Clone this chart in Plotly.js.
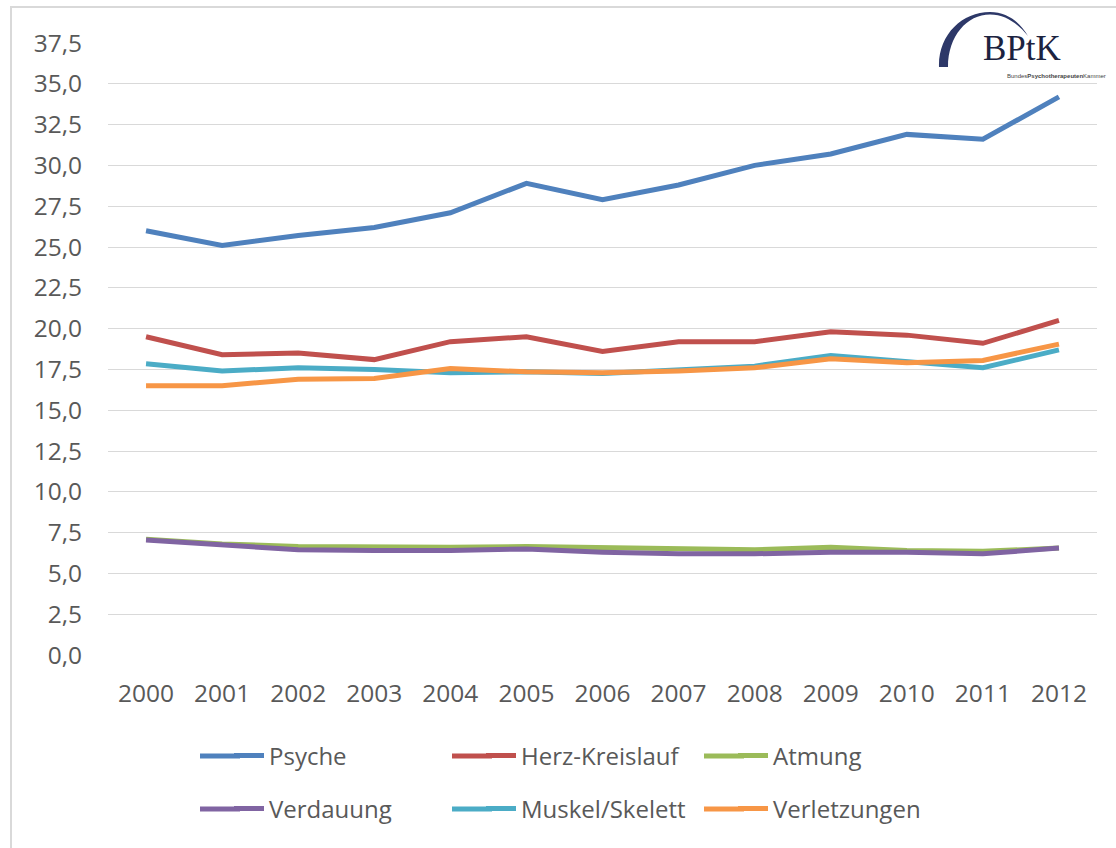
<!DOCTYPE html>
<html>
<head>
<meta charset="utf-8">
<script src="https://cdn.plot.ly/plotly-3.0.1.min.js"></script>
<style>html,body{margin:0;padding:0;background:#fff;}#chart{width:1116px;height:848px;}</style>
</head>
<body>
<div id="chart"></div>
<script>
// ---- data ----
var years = ['2000','2001','2002','2003','2004','2005','2006','2007','2008','2009','2010','2011','2012'];
var seriesNames = ['Psyche','Herz-Kreislauf','Atmung','Verdauung','Muskel/Skelett','Verletzungen'];
var psyche      = [26.0, 25.1, 25.7, 26.2, 27.1, 28.9, 27.9, 28.8, 30.0, 30.7, 31.9, 31.6, 34.2];
var herz        = [19.5, 18.4, 18.5, 18.1, 19.2, 19.5, 18.6, 19.2, 19.2, 19.8, 19.6, 19.1, 20.5];
var atmung      = [7.1, 6.8, 6.65, 6.6, 6.6, 6.65, 6.6, 6.5, 6.45, 6.6, 6.4, 6.35, 6.55];
var verdauung   = [7.05, 6.75, 6.45, 6.4, 6.4, 6.5, 6.3, 6.2, 6.2, 6.3, 6.3, 6.2, 6.55];
var muskel      = [17.85, 17.4, 17.6, 17.5, 17.3, 17.35, 17.25, 17.45, 17.7, 18.35, 18.0, 17.6, 18.7];
var verletzung  = [16.5, 16.5, 16.9, 16.95, 17.55, 17.35, 17.3, 17.4, 17.6, 18.15, 17.9, 18.05, 19.05];
var yTicks = [0, 2.5, 5, 7.5, 10, 12.5, 15, 17.5, 20, 22.5, 25, 27.5, 30, 32.5, 35, 37.5];

var values = [psyche, herz, atmung, verdauung, muskel, verletzung];
var colors = ['#4F81BD', '#C0504D', '#9BBB59', '#8064A2', '#4BACC6', '#F79646'];
var legendOf = ['legend', 'legend', 'legend', 'legend2', 'legend2', 'legend2'];

var traces = seriesNames.map(function (n, i) {
  return {
    type: 'scatter', mode: 'lines', name: n, x: years, y: values[i],
    line: {color: colors[i], width: 5},
    legend: legendOf[i], hoverinfo: 'skip'
  };
});

// layout pixel helpers (plot area: left 108, right 1097, top 43, bottom 655)
var L = 108, R = 1097, T = 43, B = 655;
function X(px) { return (px - L) / (R - L); }
function Y(py) { return (B - py) / (B - T); }
function P(px, py) { return X(px).toFixed(5) + ',' + Y(py).toFixed(5); }

var arcPath = 'M' + P(939, 67) +
  ' C' + P(938, 35) + ' ' + P(962, 12) + ' ' + P(990, 12) +
  ' C' + P(1007, 12) + ' ' + P(1020, 22) + ' ' + P(1028, 36) +
  ' C' + P(1018, 24) + ' ' + P(1006, 14.5) + ' ' + P(990, 14.5) +
  ' C' + P(967, 14.5) + ' ' + P(948, 36) + ' ' + P(948, 67) + ' Z';

var font = 'Open Sans, Noto Sans, sans-serif';
var legendX = 229;
var colStep = 252;
var rowY = [756, 809];
var legendCommon = {
  orientation: 'h', xref: 'paper', yref: 'paper', yanchor: 'middle', xanchor: 'left',
  entrywidth: colStep - 45, entrywidthmode: 'pixels', font: {family: font, size: 24, color: '#595959'},
  bgcolor: 'rgba(0,0,0,0)', itemclick: false, itemdoubleclick: false
};

// longer legend line samples (Excel style) drawn as extensions to the left of the legend symbols
var legendExt = seriesNames.map(function (n, i) {
  var col = i % 3, row = Math.floor(i / 3);
  var x0 = legendX - 29 + col * colStep;
  return {type: 'line', xref: 'paper', yref: 'paper', x0: X(x0), x1: X(x0 + 40),
          y0: Y(rowY[row]), y1: Y(rowY[row]), line: {color: colors[i], width: 5}, layer: 'above'};
});

var layout = {
  width: 1116, height: 848,
  margin: {l: L, r: 1116 - R, t: T, b: 848 - B},
  paper_bgcolor: '#ffffff', plot_bgcolor: '#ffffff',
  separators: ',.',
  font: {family: font, size: 24, color: '#595959'},
  showlegend: true,
  xaxis: {
    type: 'category', range: [-0.5, 12.5], showgrid: false, zeroline: false, showline: false,
    ticks: '', tickfont: {family: font, size: 24.5, color: '#595959'}, ticklabelstandoff: 21, fixedrange: true
  },
  yaxis: {
    range: [0, 37.5], tickvals: yTicks, tickformat: '.1f', showgrid: true, gridcolor: '#d9d9d9',
    gridwidth: 1, zeroline: false, showline: false, ticks: '',
    tickfont: {family: font, size: 24.5, color: '#595959'}, ticklabelstandoff: 25, fixedrange: true
  },
  legend: Object.assign({}, legendCommon, {x: X(legendX), y: Y(rowY[0])}),
  legend2: Object.assign({}, legendCommon, {x: X(legendX), y: Y(rowY[1])}),
  shapes: [
    {type: 'rect', xref: 'paper', yref: 'paper', x0: X(11), x1: X(1130), y0: Y(860), y1: Y(7),
     line: {color: '#d9d9d9', width: 2}, fillcolor: 'rgba(0,0,0,0)', layer: 'below'},
    {type: 'rect', xref: 'paper', yref: 'paper', x0: X(944), x1: X(1112), y0: Y(80), y1: Y(11),
     line: {width: 0}, fillcolor: '#ffffff', layer: 'above'},
    {type: 'path', xref: 'paper', yref: 'paper', path: arcPath,
     fillcolor: '#2d3868', line: {width: 0}, layer: 'above'}
  ].concat(legendExt),
  annotations: [
    {xref: 'paper', yref: 'paper', x: X(1022), y: Y(49), xanchor: 'center', yanchor: 'middle',
     text: 'BPtK', showarrow: false, font: {family: 'Liberation Serif, DejaVu Serif, serif', size: 35, color: '#1c2340'}},
    {xref: 'paper', yref: 'paper', x: X(1056), y: Y(76), xanchor: 'center', yanchor: 'middle',
     text: 'Bundes<b>Psychotherapeuten</b>Kammer', showarrow: false,
     font: {family: 'Liberation Sans, sans-serif', size: 6, color: '#444444'}}
  ]
};

Plotly.newPlot('chart', traces, layout, {staticPlot: true, displayModeBar: false});
</script>
</body>
</html>
